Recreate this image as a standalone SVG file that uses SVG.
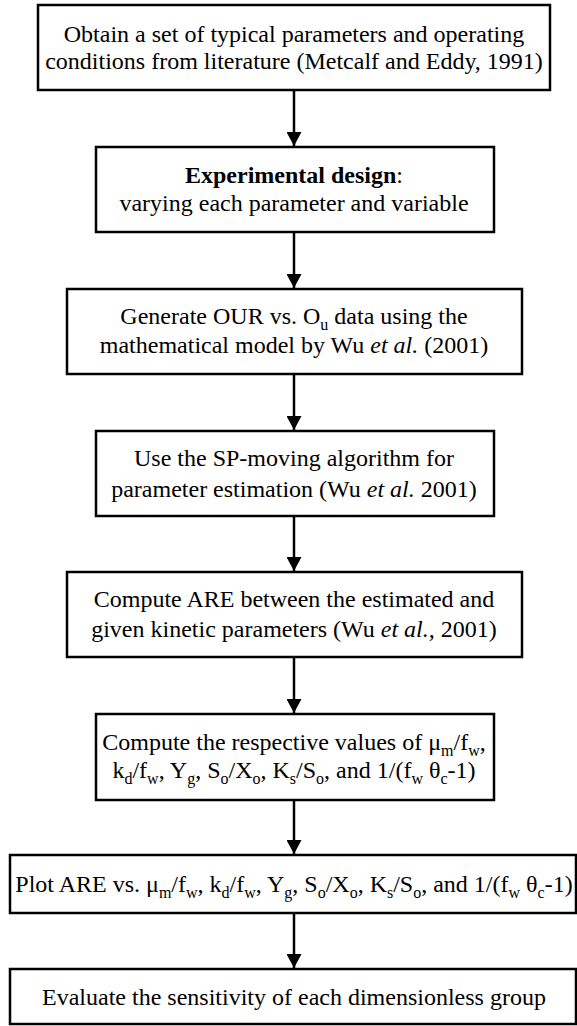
<svg xmlns="http://www.w3.org/2000/svg" width="577" height="1026" viewBox="0 0 577 1026">
<style>
.box{fill:#fff;stroke:#000;stroke-width:2.5}
text{font-family:'Liberation Serif','Times New Roman',serif;font-size:24px;fill:#000;text-anchor:middle}
.s{font-size:16px}
.b{font-weight:bold}
.i{font-style:italic}
.c{stroke:#000;stroke-width:2.5;fill:none}
</style>
<defs>
<marker id="ah" markerUnits="userSpaceOnUse" markerWidth="15" markerHeight="15" refX="14" refY="7.5" orient="auto">
<path d="M0,0 L14,7.5 L0,15 Z" fill="#000"/>
</marker>
</defs>
<rect width="577" height="1026" fill="#fff"/>
<g id="connectors">
<line class="c" x1="294" y1="90" x2="294" y2="146" marker-end="url(#ah)"/>
<line class="c" x1="294" y1="232" x2="294" y2="288" marker-end="url(#ah)"/>
<line class="c" x1="294" y1="374" x2="294" y2="430" marker-end="url(#ah)"/>
<line class="c" x1="294" y1="516" x2="294" y2="571" marker-end="url(#ah)"/>
<line class="c" x1="294" y1="657" x2="294" y2="713" marker-end="url(#ah)"/>
<line class="c" x1="294" y1="800" x2="294" y2="854" marker-end="url(#ah)"/>
<line class="c" x1="294" y1="913" x2="294" y2="968" marker-end="url(#ah)"/>
</g>
<g id="nodes">
<g id="n1">
<rect class="box" x="38" y="5" width="512" height="85"/>
<text x="294" y="42">Obtain a set of typical parameters and operating</text>
<text x="294" y="69">conditions from literature (Metcalf and Eddy, 1991)</text>
</g>
<g id="n2">
<rect class="box" x="96" y="147" width="398" height="85"/>
<text x="294" y="183"><tspan class="b">Experimental design</tspan>:</text>
<text x="294" y="211">varying each parameter and variable</text>
</g>
<g id="n3">
<rect class="box" x="67" y="289" width="455" height="85"/>
<text x="294" y="324">Generate OUR vs. O<tspan class="s" dy="6">u</tspan><tspan dy="-6"> data using the</tspan></text>
<text x="294" y="353">mathematical model by Wu <tspan class="i">et al.</tspan> (2001)</text>
</g>
<g id="n4">
<rect class="box" x="96" y="431" width="398" height="85"/>
<text x="294" y="466">Use the SP-moving algorithm for</text>
<text x="294" y="497">parameter estimation (Wu <tspan class="i">et al.</tspan> 2001)</text>
</g>
<g id="n5">
<rect class="box" x="67" y="572" width="455" height="85"/>
<text x="294" y="607">Compute ARE between the estimated and</text>
<text x="294" y="637">given kinetic parameters (Wu <tspan class="i">et al.,</tspan> 2001)</text>
</g>
<g id="n6">
<rect class="box" x="96" y="714" width="398" height="86"/>
<text x="294" y="750">Compute the respective values of μ<tspan class="s" dy="6">m</tspan><tspan dy="-6">/f</tspan><tspan class="s" dy="6">w</tspan><tspan dy="-6">,</tspan></text>
<text x="294" y="778">k<tspan class="s" dy="6">d</tspan><tspan dy="-6">/f</tspan><tspan class="s" dy="6">w</tspan><tspan dy="-6">, Y</tspan><tspan class="s" dy="6">g</tspan><tspan dy="-6">, S</tspan><tspan class="s" dy="6">o</tspan><tspan dy="-6">/X</tspan><tspan class="s" dy="6">o</tspan><tspan dy="-6">, K</tspan><tspan class="s" dy="6">s</tspan><tspan dy="-6">/S</tspan><tspan class="s" dy="6">o</tspan><tspan dy="-6">, and 1/(f</tspan><tspan class="s" dy="6">w</tspan><tspan dy="-6"> θ</tspan><tspan class="s" dy="6">c</tspan><tspan dy="-6">-1)</tspan></text>
</g>
<g id="n7">
<rect class="box" x="10" y="855" width="566" height="58"/>
<text x="294" y="892">Plot ARE vs. μ<tspan class="s" dy="6">m</tspan><tspan dy="-6">/f</tspan><tspan class="s" dy="6">w</tspan><tspan dy="-6">, k</tspan><tspan class="s" dy="6">d</tspan><tspan dy="-6">/f</tspan><tspan class="s" dy="6">w</tspan><tspan dy="-6">, Y</tspan><tspan class="s" dy="6">g</tspan><tspan dy="-6">, S</tspan><tspan class="s" dy="6">o</tspan><tspan dy="-6">/X</tspan><tspan class="s" dy="6">o</tspan><tspan dy="-6">, K</tspan><tspan class="s" dy="6">s</tspan><tspan dy="-6">/S</tspan><tspan class="s" dy="6">o</tspan><tspan dy="-6">, and 1/(f</tspan><tspan class="s" dy="6">w</tspan><tspan dy="-6"> θ</tspan><tspan class="s" dy="6">c</tspan><tspan dy="-6">-1)</tspan></text>
</g>
<g id="n8">
<rect class="box" x="10" y="969" width="566" height="55"/>
<text x="294" y="1005">Evaluate the sensitivity of each dimensionless group</text>
</g>
</g>
</svg>
